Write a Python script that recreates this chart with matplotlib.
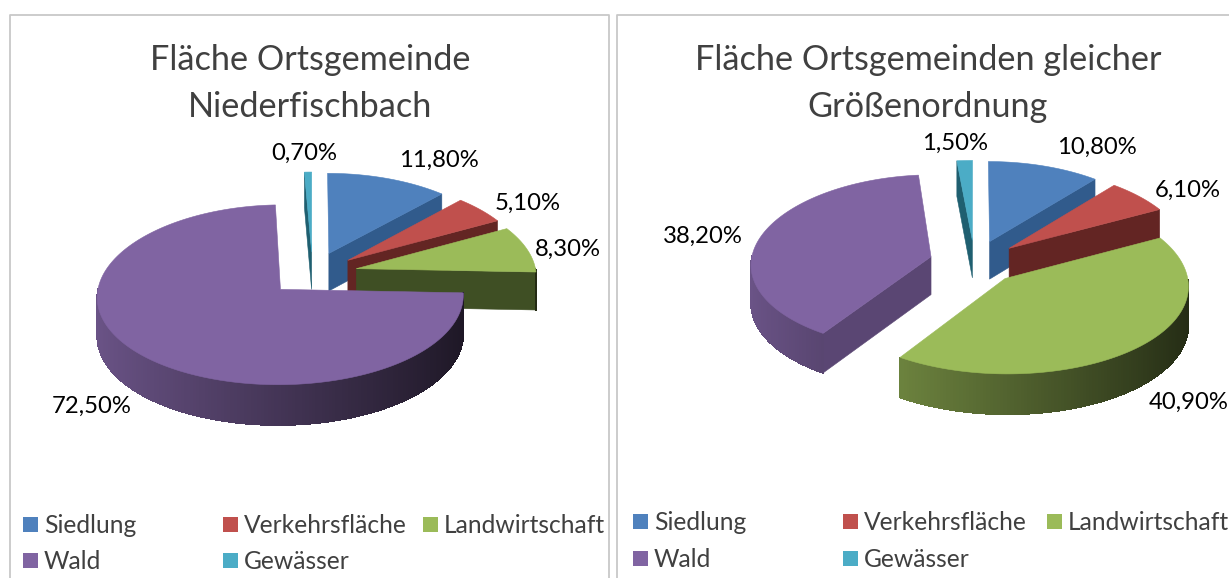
import numpy as np
import matplotlib
matplotlib.use('Agg')
import matplotlib.pyplot as plt
from matplotlib.patches import Polygon, Rectangle

categories = ['Siedlung', 'Verkehrsfläche', 'Landwirtschaft', 'Wald', 'Gewässer']
values_left = [11.8, 5.1, 8.3, 72.5, 0.7]
values_right = [10.8, 6.1, 40.9, 38.2, 1.5]
title_left = 'Fläche Ortsgemeinde\nNiederfischbach'
title_right = 'Fläche Ortsgemeinden gleicher\nGrößenordnung'

top_colors = ['#4F81BD', '#C0504D', '#9BBB59', '#8064A2', '#4BACC6']
side_colors = ['#315B8C', '#632523', '#3F4F24', '#5A4673', '#1F5F70']

# label centres in pixels, same order as categories
label_pos_left = [(439, 160), (528, 203), (568, 249), (92, 406), (304, 153)]
label_pos_right = [(1097, 147), (1188, 190), (1189, 402), (703, 236), (955, 143)]

plt.rcParams['font.family'] = ['Lato', 'DejaVu Sans']


def fmt(v):
    return ('%.2f%%' % v).replace('.', ',')


def project(X, Y, cx, cy, lift=0.0):
    # pseudo perspective, the back of the pie is a bit smaller than the front
    sx = cx + 180 * X * (1 - 0.078 * Y)
    sy = cy - 88 * Y + 5.4 * Y ** 2
    return sx, sy + lift * (38 - 2 * Y)


def draw_pie(ax, values, cx, cy, explode=0.25):
    total = sum(values)
    edges = np.cumsum([0] + list(values)) / total * 2 * np.pi
    slices = []
    for i in range(len(values)):
        mid = (edges[i] + edges[i + 1]) / 2
        slices.append((explode * np.cos(mid), i, mid))
    # back to front
    slices.sort(key=lambda s: -s[0])
    for _, i, mid in slices:
        a0, a1 = edges[i], edges[i + 1]
        tx, ty = explode * np.sin(mid), explode * np.cos(mid)
        th = np.linspace(a0, a1, max(int(np.degrees(a1 - a0)), 2) + 1)
        ox, oy = tx + np.sin(th), ty + np.cos(th)

        # straight cut faces
        for ang, visible in ((a0, np.sin(a0) < -1e-6), (a1, np.sin(a1) > 1e-6)):
            if not visible:
                continue
            ex, ey = tx + np.sin(ang), ty + np.cos(ang)
            quad = [project(tx, ty, cx, cy), project(ex, ey, cx, cy),
                    project(ex, ey, cx, cy, 1), project(tx, ty, cx, cy, 1)]
            ax.add_patch(Polygon(quad, closed=True, fc=side_colors[i], ec=side_colors[i], lw=0.4))

        # rounded outer side, shaded from left to right
        base = np.array(matplotlib.colors.to_rgb(top_colors[i]))
        for j in range(len(th) - 1):
            tm = (th[j] + th[j + 1]) / 2
            if np.cos(tm) >= 0.0:
                continue
            f = 0.53 - 0.3 * np.sin(tm)
            col = np.clip(base * f, 0, 1)
            quad = [project(ox[j], oy[j], cx, cy), project(ox[j + 1], oy[j + 1], cx, cy),
                    project(ox[j + 1], oy[j + 1], cx, cy, 1), project(ox[j], oy[j], cx, cy, 1)]
            # no antialiasing here, otherwise the strips show seams
            ax.add_patch(Polygon(quad, closed=True, fc=col, ec=col, lw=0.5, antialiased=False))

        # top face
        pts = [project(tx, ty, cx, cy)] + [project(x, y, cx, cy) for x, y in zip(ox, oy)]
        ax.add_patch(Polygon(pts, closed=True, fc=top_colors[i], ec=top_colors[i], lw=0.4))


def draw_legend(ax, col_x, row_y):
    slots = [(0, 0), (1, 0), (2, 0), (0, 1), (1, 1)]
    for i, (c, r) in enumerate(slots):
        ax.add_patch(Rectangle((col_x[c], row_y[r]), 15, 15, fc=top_colors[i], ec='none'))
        ax.text(col_x[c] + 21, row_y[r] + 8.5, categories[i], fontsize=17.7, color='#404040',
                ha='left', va='center')


fig = plt.figure(figsize=(12.29, 5.78), dpi=100)
ax = fig.add_axes([0, 0, 1, 1])
ax.set_xlim(0, 1229)
ax.set_ylim(578, 0)
ax.axis('off')

frame = '#C8C8C8'
ax.plot([10, 10, 609, 609], [578, 15, 15, 578], color=frame, lw=1.3)
ax.plot([617, 617, 1229], [578, 15, 15], color=frame, lw=1.3)

draw_pie(ax, values_left, 312.6, 273.6)
draw_pie(ax, values_right, 974.5, 262)

ax.text(310, 83.5, title_left, fontsize=24.7, color='#404040', ha='center', va='center', linespacing=1.55)
ax.text(928, 83.5, title_right, fontsize=24.7, color='#404040', ha='center', va='center', linespacing=1.55)

for v, p in zip(values_left, label_pos_left):
    ax.text(p[0], p[1], fmt(v), fontsize=17.2, color='black', ha='center', va='center')
for v, p in zip(values_right, label_pos_right):
    ax.text(p[0], p[1], fmt(v), fontsize=17.2, color='black', ha='center', va='center')

draw_legend(ax, [23, 223, 423], [517, 553])
draw_legend(ax, [633, 843, 1047], [514, 551])

plt.savefig('out.png', dpi=100)
